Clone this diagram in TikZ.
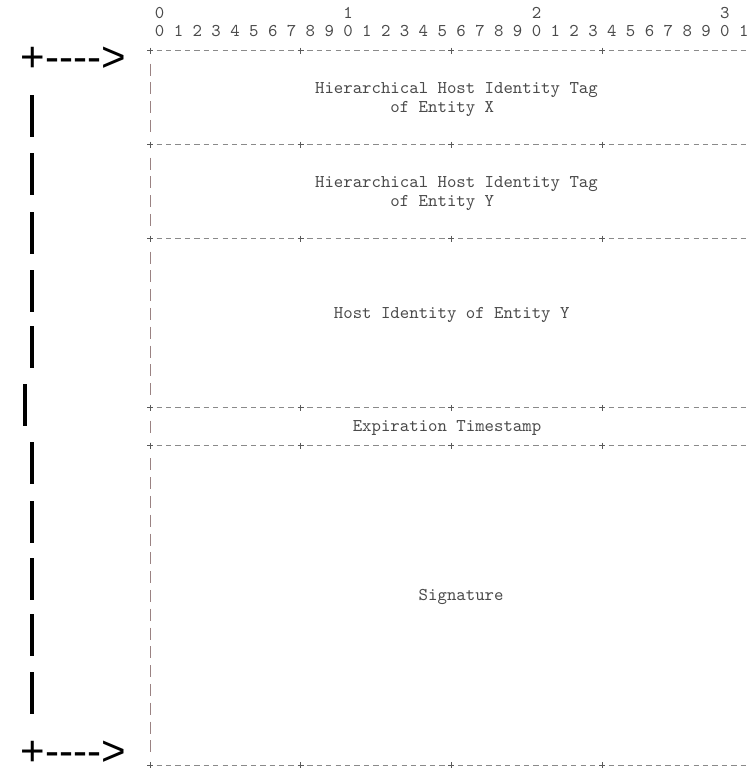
\documentclass[tikz,border=0pt]{standalone}
\usepackage{fontspec}
\newfontfamily\asciifont{lmmono10-regular.otf}
\newfontfamily\arrowfont{Liberation Sans}[Ligatures=TeXOff]
\definecolor{rulegrey}{HTML}{8A8A8A}
\definecolor{plusgrey}{HTML}{5A5A5A}
\definecolor{bargrey}{HTML}{9A8282}
\definecolor{textgrey}{HTML}{4A4A4A}

\begin{document}
\begin{tikzpicture}[x=0.75pt,y=-0.75pt,
  hrule/.style={rulegrey,line width=0.75pt,dash pattern=on 4pt off 3.065pt},
  vrule/.style={bargrey,line width=0.7pt,dash pattern=on 9pt off 5.1pt},
  plusmark/.style={plusgrey,line width=0.7pt},
  ascii/.style={inner sep=0pt,anchor=base west,text=textgrey,font=\asciifont\fontsize{13.46}{16}\selectfont},
  bigarrow/.style={inner sep=0pt,anchor=base west,font=\arrowfont\fontsize{31.5}{36}\selectfont},
  bigbar/.style={line width=3pt}]
\useasboundingbox (0,0) rectangle (747,768);

% bit ruler
\foreach \d in {0,...,3}
  \node[ascii] (tens\d) at ({154.71+188.4*\d},18.1) {\d};
\foreach \c in {0,...,31} {
  \pgfmathtruncatemacro{\u}{mod(\c,10)}
  \node[ascii] (bit\c) at ({154.71+18.84*\c},36.9) {\u};
}

% field borders
\foreach \r in {2,7,12,21,23,40} {
  \draw[hrule] (156.6,{13.1+18.8*\r}) -- (747,{13.1+18.8*\r});
  \foreach \c in {0,16,32,48}
    \draw[plusmark] ({147+9.42*\c},{13.1+18.8*\r}) -- ++(6,0) ++(-3,-3) -- ++(0,6);
}

% left edge of the fields
\foreach \a/\b in {3/6,8/11,13/20,22/22,24/39}
  \draw[vrule] (150,{13.1+18.8*\a-6}) -- (150,{13.1+18.8*\b+6});

% field names
\node[ascii] (tagX) at (314.85,93.3) {Hierarchical Host Identity Tag};
\node[ascii] (entX) at (390.21,112.1) {of Entity X};
\node[ascii] (tagY) at (314.85,187.3) {Hierarchical Host Identity Tag};
\node[ascii] (entY) at (390.21,206.1) {of Entity Y};
\node[ascii] (hostY) at (333.69,318.9) {Host Identity of Entity Y};
\node[ascii] (expiry) at (352.53,431.7) {Expiration Timestamp};
\node[ascii] (sig) at (418.47,600.9) {Signature};

% signed span
\node[bigarrow] (signTop) at (20.4,71.5) {+---->};
\node[bigarrow] (signBot) at (20.4,765) {+---->};
\foreach \y in {95,153,212,270,326,442,501,558,614,672}
  \draw[bigbar] (31.7,\y) -- (31.7,{\y+42});
\draw[bigbar] (25,384) -- (25,426);
\end{tikzpicture}
\end{document}
